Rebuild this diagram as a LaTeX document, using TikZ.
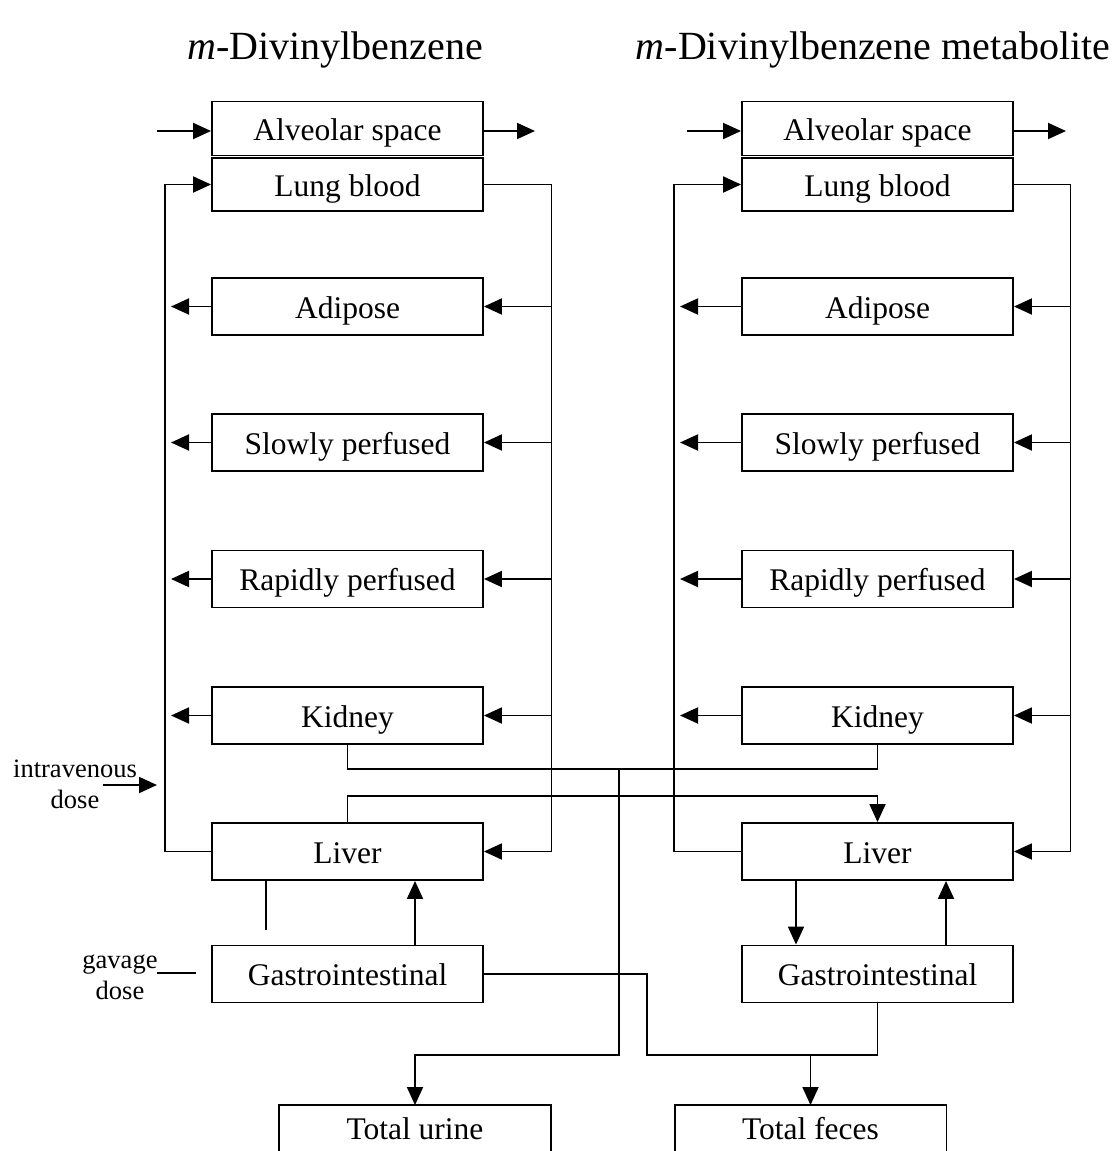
\documentclass[tikz,border=0pt]{standalone}
\usepackage{fontspec}
\setmainfont{Liberation Serif}
\usetikzlibrary{arrows.meta}
\begin{document}
\begin{tikzpicture}[x=1pt,y=-1pt,
  line width=1.9pt,
  box/.style={draw, line width=1.9pt, minimum width=271pt, minimum height=57pt, inner sep=0pt,
    text height=23pt, text depth=0pt, font=\fontsize{31.5}{36}\selectfont},
  openbox/.style={minimum width=270pt, minimum height=44pt, inner sep=0pt,
    text height=23pt, text depth=0pt, font=\fontsize{31.5}{36}\selectfont},
  arr/.style={-{Triangle[length=18pt,width=16pt]}},
  lbl/.style={font=\fontsize{26.5}{31}\selectfont, align=center, inner sep=0pt},
  ttl/.style={font=\fontsize{40}{46}\selectfont, inner sep=0pt, text height=28pt, text depth=0pt}]
\clip (0,0) rectangle (1116,1151);

% titles
\node[ttl] (t1) at (335,45) {\textit{m}-Divinylbenzene};
\node[ttl] (t2) at (873,45) {\textit{m}-Divinylbenzene metabolite};

% left column
\node[box, minimum height=54pt] (alvL) at (347.5,128.5) {Alveolar space};
\node[box, minimum height=53pt] (lungL) at (347.5,184.5) {Lung blood};
\node[box] (adiL) at (347.5,306.5) {Adipose};
\node[box] (slowL) at (347.5,442.5) {Slowly perfused};
\node[box] (rapL) at (347.5,579) {Rapidly perfused};
\node[box] (kidL) at (347.5,715.5) {Kidney};
\node[box] (livL) at (347.5,851.5) {Liver};
\node[box] (giL) at (347.5,974) {Gastrointestinal};

% right column
\node[box, minimum height=54pt] (alvR) at (877.5,128.5) {Alveolar space};
\node[box, minimum height=53pt] (lungR) at (877.5,184.5) {Lung blood};
\node[box] (adiR) at (877.5,306.5) {Adipose};
\node[box] (slowR) at (877.5,442.5) {Slowly perfused};
\node[box] (rapR) at (877.5,579) {Rapidly perfused};
\node[box] (kidR) at (877.5,715.5) {Kidney};
\node[box] (livR) at (877.5,851.5) {Liver};
\node[box] (giR) at (877.5,974) {Gastrointestinal};

% totals
\node[openbox] (urine) at (415,1128) {Total urine};
\node[openbox] (feces) at (810.5,1128) {Total feces};
\draw ([yshift=-40pt]urine.south west) -- (urine.north west) -- (urine.north east) -- ([yshift=-40pt]urine.south east);
\draw ([yshift=-40pt]feces.south west) -- (feces.north west) -- (feces.north east) -- ([yshift=-40pt]feces.south east);

% helper coordinates
\coordinate (vlL) at (165,0);
\coordinate (vrL) at (551.5,0);
\coordinate (tipL) at (171,0);
\coordinate (vlR) at (674,0);
\coordinate (vrR) at (1070.5,0);
\coordinate (tipR) at (680,0);

% alveolar in/out
\coordinate (inL) at (157,131);
\coordinate (outL) at (535,131);
\coordinate (inR) at (687,131);
\coordinate (outR) at (1066,131);
\draw[arr] (inL) -- (inL -| alvL.west);
\draw[arr] (outL -| alvL.east) -- (outL);
\draw[arr] (inR) -- (inR -| alvR.west);
\draw[arr] (outR -| alvR.east) -- (outR);

% circulation left
\draw[arr] (livL.west) -- (livL.west -| vlL) -- (lungL.west -| vlL) -- (lungL.west);
\draw[arr] (lungL.east) -- (lungL.east -| vrL) -- (livL.east -| vrL) -- (livL.east);
\foreach \n in {adiL,slowL,rapL,kidL}{
  \draw[arr] (\n.east -| vrL) -- (\n.east);
  \draw[arr] (\n.west) -- (\n.west -| tipL);
}

% circulation right
\draw[arr] (livR.west) -- (livR.west -| vlR) -- (lungR.west -| vlR) -- (lungR.west);
\draw[arr] (lungR.east) -- (lungR.east -| vrR) -- (livR.east -| vrR) -- (livR.east);
\foreach \n in {adiR,slowR,rapR,kidR}{
  \draw[arr] (\n.east -| vrR) -- (\n.east);
  \draw[arr] (\n.west) -- (\n.west -| tipR);
}

% doses
\node[lbl] (iv) at (75,784) {intravenous\\dose};
\coordinate (ivs) at (103,785);
\coordinate (ive) at (157,785);
\draw[arr] (ivs) -- (ive);
\node[lbl] (gv) at (120,977) {gavage\\dose};
\coordinate (gvs) at (157,973);
\coordinate (gve) at (196,973);
\draw (gvs) -- (gve);

% liver / GI left
\coordinate (slL) at (266,0);
\coordinate (upL) at (415,0);
\draw (livL.south -| slL) -- ++(0,49);
\draw[arr] (giL.north -| upL) -- (livL.south -| upL);

% liver / GI right
\coordinate (dnR) at (796,0);
\coordinate (upR) at (946,0);
\draw[arr] (livR.south -| dnR) -- (giR.north -| dnR);
\draw[arr] (giR.north -| upR) -- (livR.south -| upR);

% kidney to urine
\coordinate (kj) at (619,769);
\coordinate (uj) at (619,1055);
\draw (kidL.south) |- (kj) -| (kidR.south);
\draw[arr] (kj) -- (uj) -| (urine.north);

% liver to liver
\coordinate (lj) at (600,796);
\draw[arr] (livL.north) |- (lj) -| (livR.north);

% GI to feces
\coordinate (fa) at (647,974);
\coordinate (fb) at (647,1055);
\draw (giL.east) -- (giL.east -| fa) -- (fb) -| (giR.south);
\draw[arr] (feces.north |- fb) -- (feces.north);
\end{tikzpicture}
\end{document}
